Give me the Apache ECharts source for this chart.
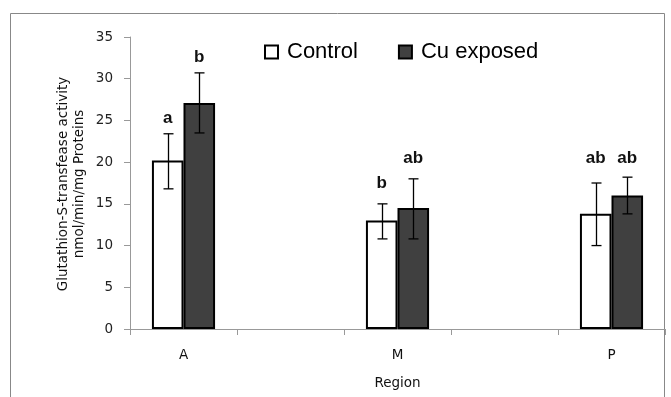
<!DOCTYPE html>
<html><head><meta charset="utf-8">
<script src="https://cdn.jsdelivr.net/npm/echarts@6/dist/echarts.min.js"></script>
<style>html,body{margin:0;padding:0;background:#fff}#c{width:671px;height:397px}</style>
</head><body><div id="c"></div>
<script>
const categories = ['A', '', 'M', ' ', 'P'];
const controlValues = [20.2, '-', 13.0, '-', 13.8];
const cuValues = [27.1, '-', 14.5, '-', 16.0];
const controlErrLow = [16.8, null, 10.8, null, 10.0];
const controlErrHigh = [23.4, null, 15.0, null, 17.5];
const cuErrLow = [23.5, null, 10.8, null, 13.8];
const cuErrHigh = [30.7, null, 18.0, null, 18.2];
const controlLetters = ['a', null, 'b', null, 'ab'];
const cuLetters = ['b', null, 'ab', null, 'ab'];
const controlLetterY = [25.2, null, 17.5, null, 20.4];
const cuLetterY = [32.6, null, 20.4, null, 20.4];
const yTicks = [0, 5, 10, 15, 20, 25, 30, 35];

const chart = echarts.init(document.getElementById('c'), null, {renderer: 'canvas'});
const BAR_FRAC = 0.295;
const FONT = '"DejaVu Sans", sans-serif';

function errData(lo, hi, sign) {
  const d = [];
  lo.forEach((v, i) => { if (v != null) d.push([i, lo[i], hi[i], sign]); });
  return d;
}
function letterData(txt, ys, sign) {
  const d = [];
  txt.forEach((t, i) => { if (t != null) d.push([i, ys[i], sign]); });
  return d;
}
const letters = {
  lc: controlLetters.filter(t => t != null),
  lu: cuLetters.filter(t => t != null)
};
function errRender(params, api) {
  const i = api.value(0);
  const bw = api.size([1, 0])[0] * BAR_FRAC;
  const off = api.value(3) * bw / 2;
  const lo = api.coord([i, api.value(1)]);
  const hi = api.coord([i, api.value(2)]);
  const x = Math.round(lo[0] + off) + 0.5;
  const cap = 5;
  const st = {stroke: '#000', lineWidth: 1.3};
  return {type: 'group', children: [
    {type: 'line', shape: {x1: x, y1: lo[1], x2: x, y2: hi[1]}, style: st},
    {type: 'line', shape: {x1: x - cap, y1: lo[1], x2: x + cap, y2: lo[1]}, style: st},
    {type: 'line', shape: {x1: x - cap, y1: hi[1], x2: x + cap, y2: hi[1]}, style: st}
  ]};
}
function letterRender(params, api) {
  const i = api.value(0);
  const bw = api.size([1, 0])[0] * BAR_FRAC;
  const off = api.value(2) * bw / 2;
  const p = api.coord([i, api.value(1)]);
  return {type: 'text', x: p[0] + off, y: p[1], style: {
    text: letters[params.seriesName][params.dataIndexInside],
    fill: '#111', font: 'bold 17px "Liberation Sans", sans-serif', align: 'center', verticalAlign: 'middle'}};
}

chart.setOption({
  animation: false,
  backgroundColor: '#fff',
  grid: {left: 130, right: 6, top: 37, bottom: 68, containLabel: false},
  legend: {
    top: 36, left: 259, itemWidth: 13, itemHeight: 13, itemGap: 40,
    textStyle: {fontSize: 22, color: '#000', fontFamily: '"Liberation Sans", sans-serif', padding: [0, 0, 0, 4]},
    data: [
      {name: 'Control', icon: 'rect', itemStyle: {color: '#fff', borderColor: '#000', borderWidth: 2}},
      {name: 'Cu exposed', icon: 'rect', itemStyle: {color: '#404040', borderColor: '#000', borderWidth: 2}}
    ]
  },
  xAxis: {
    type: 'category', data: categories,
    name: 'Region', nameLocation: 'middle', nameGap: 47,
    nameTextStyle: {fontSize: 13.5, color: '#111', fontFamily: FONT},
    axisLine: {lineStyle: {color: '#999', width: 1}},
    axisTick: {show: true, length: 6, lineStyle: {color: '#999'}},
    axisLabel: {fontSize: 13.5, color: '#111', margin: 19, fontFamily: FONT}
  },
  yAxis: {
    type: 'value', min: 0, max: 35, interval: 5,
    axisLine: {show: true, lineStyle: {color: '#999'}},
    axisTick: {show: true, length: 6, lineStyle: {color: '#999'}},
    splitLine: {show: false},
    axisLabel: {fontSize: 13.5, color: '#222', margin: 17, fontFamily: FONT,
      formatter: v => yTicks.includes(v) ? String(v) : ''}
  },
  series: [
    {name: 'Control', type: 'bar', data: controlValues, barWidth: (BAR_FRAC * 100) + '%', barGap: '0%',
      itemStyle: {color: '#fff', borderColor: '#000', borderWidth: 2}},
    {name: 'Cu exposed', type: 'bar', data: cuValues, barWidth: (BAR_FRAC * 100) + '%', barGap: '0%',
      itemStyle: {color: '#404040', borderColor: '#000', borderWidth: 2}},
    {name: 'ec', type: 'custom', data: errData(controlErrLow, controlErrHigh, -1), renderItem: errRender, z: 5},
    {name: 'eu', type: 'custom', data: errData(cuErrLow, cuErrHigh, 1), renderItem: errRender, z: 5},
    {name: 'lc', type: 'custom', data: letterData(controlLetters, controlLetterY, -1), renderItem: letterRender, z: 6},
    {name: 'lu', type: 'custom', data: letterData(cuLetters, cuLetterY, 1), renderItem: letterRender, z: 6}
  ],
  graphic: [
    {type: 'rect', shape: {x: 10.5, y: 13.5, width: 654, height: 420}, style: {fill: 'none', stroke: '#888', lineWidth: 1}, z: -1},
    {type: 'text', x: 71.5, y: 184, rotation: Math.PI / 2, style: {
      text: 'Glutathion-S-transfease activity\nnmol/min/mg Proteins',
      font: '13.5px "DejaVu Sans", sans-serif', fill: '#111', align: 'center', verticalAlign: 'middle', lineHeight: 16}}
  ]
});
</script></body></html>
